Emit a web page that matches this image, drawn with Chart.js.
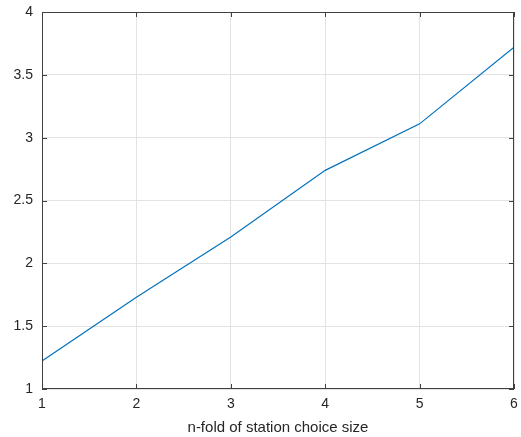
<!DOCTYPE html>
<html>
<head>
<meta charset="utf-8">
<script src="https://cdn.jsdelivr.net/npm/chart.js@4/dist/chart.umd.min.js"></script>
<style>
  html, body { margin: 0; padding: 0; background: #fff; }
  #wrap { width: 521px; height: 437px; position: relative; }
</style>
</head>
<body>
<div id="wrap"><canvas id="c" width="521" height="437"></canvas></div>
<script>
const foldSizes = [1, 2, 3, 4, 5, 6];
const ratioValues = [1.223, 1.73, 2.21, 2.74, 3.11, 3.72];
const yTicks = [1, 1.5, 2, 2.5, 3, 3.5, 4];
const xTitle = 'n-fold of station choice size';

const axisColor = '#404040';
const textColor = '#262626';

/* box + inward ticks, matlab style */
const boxPlugin = {
  id: 'box',
  afterDraw(chart) {
    const { ctx, chartArea: a, scales } = chart;
    ctx.save();
    ctx.strokeStyle = axisColor;
    ctx.lineWidth = 1;
    ctx.strokeRect(Math.round(a.left) + 0.5, Math.round(a.top) + 0.5,
      Math.round(a.right - a.left) - 1, Math.round(a.bottom - a.top) - 1);
    const len = 5;
    ctx.beginPath();
    foldSizes.forEach(v => {
      const x = Math.round(scales.x.getPixelForValue(v)) + 0.5;
      ctx.moveTo(x, a.bottom); ctx.lineTo(x, a.bottom - len);
      ctx.moveTo(x, a.top); ctx.lineTo(x, a.top + len);
    });
    yTicks.forEach(v => {
      const y = Math.round(scales.y.getPixelForValue(v)) + 0.5;
      ctx.moveTo(a.left, y); ctx.lineTo(a.left + len, y);
      ctx.moveTo(a.right, y); ctx.lineTo(a.right - len, y);
    });
    ctx.stroke();
    ctx.restore();
  },
};

// keep the plot box where the reference has it, ignore label overflow
const noPad = s => { s.paddingTop = 0; s.paddingBottom = 0; s.paddingLeft = 0; s.paddingRight = 0; };

new Chart(document.getElementById('c').getContext('2d'), {
  type: 'line',
  data: {
    datasets: [{
      data: foldSizes.map((x, i) => ({ x, y: ratioValues[i] })),
      borderColor: '#0072BD', borderWidth: 1.2,
      pointRadius: 0, tension: 0, fill: false,
    }],
  },
  options: {
    responsive: false, animation: false,
    layout: { padding: { top: 12, right: 7, left: 0, bottom: 0 } },
    plugins: { legend: { display: false }, tooltip: { enabled: false } },
    scales: {
      x: {
        type: 'linear', min: 1, max: 6,
        afterBuildTicks: s => { s.ticks = foldSizes.map(v => ({ value: v })); },
        afterFit: s => { s.height = 48; noPad(s); },
        grid: { color: '#e3e3e3', drawTicks: false },
        border: { display: false },
        ticks: { color: textColor, font: { family: 'Liberation Sans, Arial', size: 14 }, padding: 7, maxRotation: 0 },
        title: { display: true, text: xTitle, color: textColor, font: { family: 'Liberation Sans, Arial', size: 15 }, padding: { top: 1, bottom: 0 } },
      },
      y: {
        type: 'linear', min: 1, max: 4,
        afterBuildTicks: s => { s.ticks = yTicks.map(v => ({ value: v })); },
        afterFit: s => { s.width = 42; noPad(s); },
        grid: { color: '#e3e3e3', drawTicks: false },
        border: { display: false },
        ticks: { color: textColor, font: { family: 'Liberation Sans, Arial', size: 14 }, padding: 9, callback: v => String(v) },
      },
    },
  },
  plugins: [boxPlugin],
});
</script>
</body>
</html>
